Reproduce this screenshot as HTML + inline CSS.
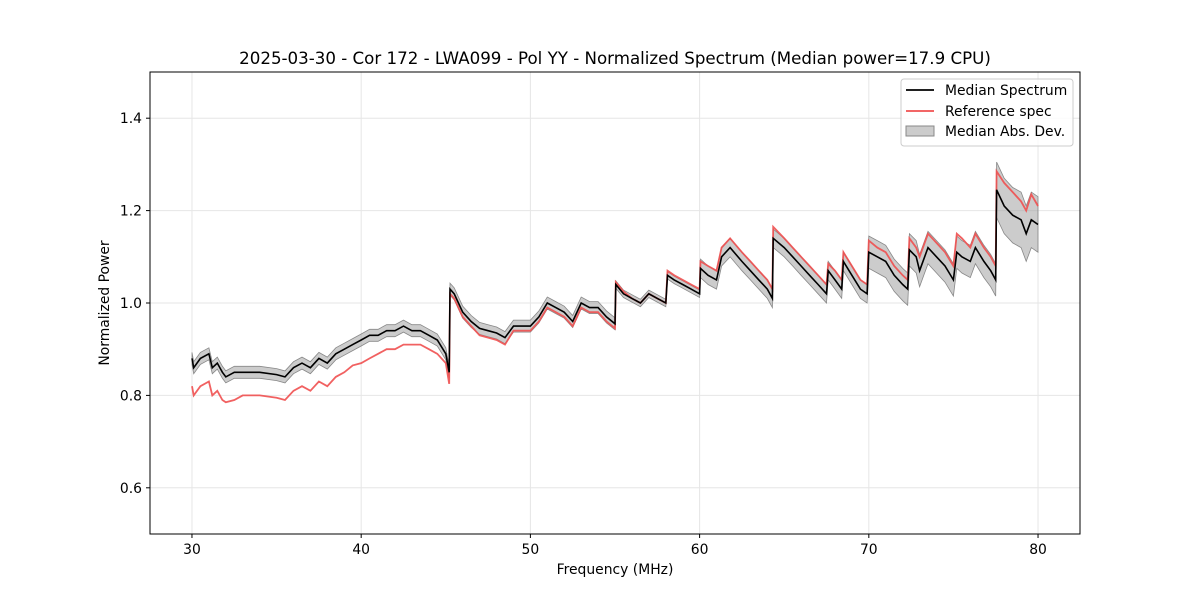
<!DOCTYPE html>
<html><head><meta charset="utf-8"><style>
body{margin:0;background:#fff;}
svg text{font-family:"DejaVu Sans","Liberation Sans",sans-serif;}
</style></head><body>
<svg id="chart" width="1200" height="600" xmlns="http://www.w3.org/2000/svg">
<rect width="1200" height="600" fill="#fff"/>
<g id="grid"></g>
<path id="band" fill="#999" fill-opacity="0.5" stroke="#888" stroke-width="0.8"/>
<polyline id="refLine" fill="none" stroke="#f05050" stroke-opacity="0.9" stroke-width="1.8"/>
<polyline id="medLine" fill="none" stroke="#000" stroke-width="1.6"/>
<g id="ticks"></g>
<rect x="150" y="72" width="930" height="462" fill="none" stroke="#000" stroke-width="1"/>
<text x="615" y="64" text-anchor="middle" font-size="16.67">2025-03-30 - Cor 172 - LWA099 - Pol YY - Normalized Spectrum (Median power=17.9 CPU)</text>
<text x="615" y="574" text-anchor="middle" font-size="13.9">Frequency (MHz)</text>
<text transform="translate(109,303) rotate(-90)" text-anchor="middle" font-size="13.9">Normalized Power</text>
<g>
<rect x="901" y="79" width="172" height="67" rx="3" fill="#fff" fill-opacity="0.8" stroke="#ccc"/>
<line x1="906" y1="90" x2="934" y2="90" stroke="#000" stroke-width="1.8"/>
<text x="945" y="95" font-size="13.9">Median Spectrum</text>
<line x1="906" y1="111" x2="934" y2="111" stroke="#f05050" stroke-width="1.8"/>
<text x="945" y="116" font-size="13.9">Reference spec</text>
<rect x="906" y="126" width="28" height="10" fill="#999" fill-opacity="0.5" stroke="#888"/>
<text x="945" y="136" font-size="13.9">Median Abs. Dev.</text>
</g>
</svg>
<script>
const freqs=[30,30.1,30.5,31,31.2,31.5,31.8,32,32.5,33,34,35,35.5,36,36.5,37,37.5,38,38.5,39,39.5,40,40.5,41,41.5,42,42.5,43,43.5,44,44.5,45,45.2,45.25,45.5,46,46.5,47,47.5,48,48.5,49,49.5,50,50.5,51,51.5,52,52.5,53,53.5,54,54.5,55,55.05,55.5,56,56.5,57,57.5,58,58.1,58.5,59,59.5,60,60.05,60.5,61,61.3,61.8,62.5,63,63.5,64,64.3,64.35,65,65.5,66,66.5,67,67.5,67.6,68,68.4,68.5,69,69.5,69.9,70,70.5,71,71.5,72,72.3,72.4,72.8,73,73.5,74,74.5,75,75.2,75.5,76,76.3,76.8,77.2,77.5,77.55,78,78.5,79,79.3,79.6,80];
const median=[0.88,0.86,0.88,0.89,0.86,0.87,0.85,0.84,0.85,0.85,0.85,0.845,0.84,0.86,0.87,0.86,0.88,0.87,0.89,0.90,0.91,0.92,0.93,0.93,0.94,0.94,0.95,0.94,0.94,0.93,0.92,0.89,0.85,1.03,1.02,0.98,0.96,0.945,0.94,0.935,0.925,0.95,0.95,0.95,0.97,1.0,0.99,0.98,0.96,1.0,0.99,0.99,0.97,0.955,1.04,1.02,1.01,1.0,1.02,1.01,1.0,1.06,1.05,1.04,1.03,1.02,1.075,1.06,1.05,1.1,1.12,1.09,1.07,1.05,1.03,1.01,1.14,1.12,1.10,1.08,1.06,1.04,1.02,1.07,1.05,1.03,1.09,1.06,1.03,1.02,1.11,1.10,1.09,1.06,1.04,1.03,1.115,1.10,1.07,1.12,1.10,1.08,1.05,1.11,1.10,1.09,1.12,1.09,1.07,1.05,1.245,1.21,1.19,1.18,1.15,1.18,1.17];
const reference=[0.82,0.80,0.82,0.83,0.80,0.81,0.79,0.785,0.79,0.80,0.80,0.795,0.79,0.81,0.82,0.81,0.83,0.82,0.84,0.85,0.865,0.87,0.88,0.89,0.90,0.90,0.91,0.91,0.91,0.90,0.89,0.87,0.825,1.02,1.01,0.97,0.95,0.93,0.925,0.92,0.91,0.94,0.94,0.94,0.96,0.99,0.98,0.97,0.95,0.99,0.98,0.98,0.96,0.945,1.045,1.025,1.01,1.0,1.02,1.01,1.0,1.07,1.06,1.05,1.04,1.03,1.09,1.08,1.07,1.12,1.14,1.11,1.09,1.07,1.05,1.03,1.165,1.14,1.12,1.10,1.08,1.06,1.04,1.085,1.07,1.05,1.11,1.08,1.05,1.04,1.135,1.12,1.11,1.08,1.06,1.05,1.14,1.12,1.10,1.15,1.13,1.11,1.08,1.15,1.14,1.12,1.15,1.12,1.10,1.08,1.285,1.26,1.24,1.22,1.20,1.235,1.21];
const mad=[0.013,0.013,0.013,0.013,0.013,0.013,0.013,0.013,0.013,0.013,0.013,0.013,0.013,0.013,0.013,0.013,0.013,0.013,0.013,0.013,0.013,0.013,0.013,0.013,0.013,0.013,0.013,0.013,0.013,0.013,0.013,0.013,0.013,0.013,0.013,0.013,0.013,0.013,0.013,0.013,0.013,0.013,0.013,0.013,0.013,0.013,0.013,0.013,0.013,0.013,0.013,0.013,0.013,0.013,0.008,0.008,0.008,0.008,0.008,0.008,0.008,0.008,0.008,0.008,0.008,0.008,0.02,0.02,0.02,0.02,0.02,0.02,0.02,0.02,0.02,0.02,0.02,0.02,0.02,0.02,0.02,0.02,0.02,0.02,0.02,0.02,0.02,0.02,0.02,0.02,0.035,0.035,0.035,0.035,0.035,0.035,0.035,0.035,0.035,0.035,0.035,0.035,0.035,0.035,0.035,0.035,0.035,0.035,0.035,0.035,0.06,0.06,0.06,0.06,0.06,0.06,0.06];
const xTicks=[30,40,50,60,70,80];
const yTicks=[0.6,0.8,1.0,1.2,1.4];
const yTickLabels=["0.6","0.8","1.0","1.2","1.4"];
const X=f=>150+(f-27.52)/(82.48-27.52)*930;
const Y=v=>534-(v-0.5)/(1.0)*462;
const NS="http://www.w3.org/2000/svg";
const grid=document.getElementById('grid'),ticks=document.getElementById('ticks');
function mk(tag,attrs,parent){const e=document.createElementNS(NS,tag);for(const k in attrs)e.setAttribute(k,attrs[k]);parent.appendChild(e);return e;}
xTicks.forEach(t=>{const x=X(t);
 const g=mk('line',{x1:x,x2:x,y1:72,y2:534,stroke:'#e6e6e6','stroke-width':1},grid);
 
 
 const l=mk('line',{x1:x,x2:x,y1:534,y2:538,stroke:'#000'},ticks);
 
 
 const tx=mk('text',{x:x,y:554,'text-anchor':'middle','font-size':13.9},ticks);tx.textContent=String(t);
 
 
});
yTicks.forEach((t,i)=>{const y=Y(t);
 const g=mk('line',{x1:150,x2:1080,y1:y,y2:y,stroke:'#e6e6e6','stroke-width':1},grid);
 
 
 const l=mk('line',{x1:146,x2:150,y1:y,y2:y,stroke:'#000'},ticks);
 
 
 const tx=mk('text',{x:142,y:y+5,'text-anchor':'end','font-size':13.9},ticks);tx.textContent=yTickLabels[i];
 
 
});
const pts=a=>freqs.map((f,i)=>X(f).toFixed(1)+','+Y(a[i]).toFixed(1)).join(' ');
document.getElementById('medLine').setAttribute('points',pts(median));
document.getElementById('refLine').setAttribute('points',pts(reference));
let d='M'+freqs.map((f,i)=>X(f).toFixed(1)+','+Y(median[i]+mad[i]).toFixed(1)).join('L');
for(let i=freqs.length-1;i>=0;i--)d+='L'+X(freqs[i]).toFixed(1)+','+Y(median[i]-mad[i]).toFixed(1);
document.getElementById('band').setAttribute('d',d+'Z');
</script>
</body></html>
